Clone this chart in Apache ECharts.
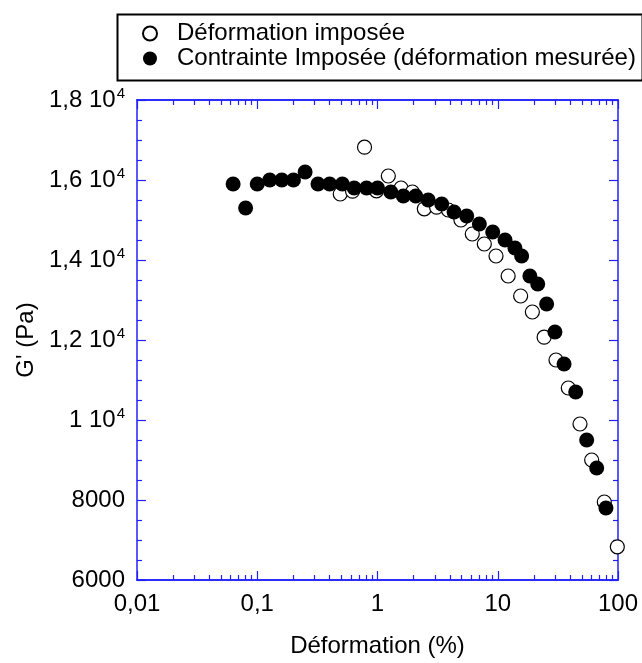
<!DOCTYPE html>
<html><head><meta charset="utf-8">
<script src="https://cdn.jsdelivr.net/npm/echarts@6/dist/echarts.min.js"></script>
<style>html,body{margin:0;padding:0;background:#fff}#c{width:642px;height:663px}</style>
</head><body><div id="c"></div>
<script>
// ---- data ----
const seriesNames = ['Déformation imposée', 'Contrainte Imposée (déformation mesurée)'];
// open circles: imposed strain
const openX = [0.49, 0.62, 0.78, 0.98, 1.23, 1.57, 1.95, 2.45, 3.1, 3.88, 4.94, 6.14, 7.73, 9.67, 12.2, 15.5, 19.4, 24.3, 30.5, 38.6, 48.3, 60.4, 76.9, 98.7];
const openY = [15650, 15720, 16820, 15730, 16100, 15800, 15700, 15280, 15320, 15250, 15000, 14650, 14400, 14100, 13600, 13100, 12700, 12070, 11500, 10800, 9900, 9000, 7950, 6830];
// filled circles: imposed stress (measured strain)
const filledX = [0.063, 0.08, 0.1, 0.127, 0.16, 0.2, 0.25, 0.32, 0.40, 0.51, 0.64, 0.81, 1.0, 1.29, 1.64, 2.08, 2.64, 3.42, 4.33, 5.52, 7.03, 9.08, 11.5, 13.9, 15.8, 18.5, 21.5, 25.5, 29.9, 35.6, 44.5, 54.9, 66.5, 79.4];
const filledY = [15900, 15300, 15900, 16000, 16000, 16000, 16200, 15900, 15900, 15900, 15800, 15800, 15800, 15700, 15600, 15600, 15500, 15400, 15200, 15100, 14900, 14700, 14500, 14300, 14100, 13600, 13400, 12900, 12200, 11400, 10700, 9500, 8800, 7800];
// axes
const xTickValues = [0.01, 0.1, 1, 10, 100];
const xTickLabels = ['0,01', '0,1', '1', '10', '100'];
const yTickValues = [6000, 8000, 10000, 12000, 14000, 16000, 18000];
const yTickLabels = ['6000', '8000', '1 10^4', '1,2 10^4', '1,4 10^4', '1,6 10^4', '1,8 10^4'];
const xName = 'Déformation (%)';
const yName = "G' (Pa)";

// ---- rendering ----
const FONT = "'Liberation Sans', Arial, sans-serif";
const FS = 24;
const BLUE = '#2020ff';
const xMinor = [];
for (let d = 0.01; d < 99; d *= 10) for (let k = 2; k <= 9; k++) xMinor.push(+(d * k).toPrecision(3));

function fmtX(v) {
  const i = xTickValues.findIndex(t => Math.abs(Math.log10(t) - Math.log10(v)) < 1e-6);
  return i < 0 ? '' : xTickLabels[i];
}
function fmtY(v) {
  const i = yTickValues.indexOf(v);
  if (i < 0) return '';
  const m = yTickLabels[i].match(/^(.*) 10\^(\d+)$/);
  return m ? '{a|' + m[1] + ' 10}{s|' + m[2] + '}' : '{a|' + yTickLabels[i] + '}';
}
const textBase = { color: '#000', fontFamily: FONT, fontSize: FS };

function xAx(pos, major, withLabel) {
  return {
    type: 'log', logBase: 10, min: 0.01, max: 100, position: pos, gridIndex: 0,
    axisLine: { show: true, onZero: false, lineStyle: { color: BLUE, width: 1.5 } },
    axisTick: { show: true, inside: true, length: major ? 9 : 5, customValues: major ? xTickValues : xMinor, lineStyle: { color: BLUE, width: 1.2 } },
    axisLabel: withLabel ? Object.assign({ show: true, customValues: xTickValues, formatter: fmtX, margin: 12 }, textBase) : { show: false },
    splitLine: { show: false },
    name: withLabel ? xName : '', nameLocation: 'middle', nameGap: 54,
    nameTextStyle: textBase
  };
}
function yAx(pos, withLabel) {
  return {
    type: 'value', min: 6000, max: 18000, interval: 2000, position: pos, gridIndex: 0,
    axisLine: { show: true, onZero: false, lineStyle: { color: BLUE, width: 1.5 } },
    axisTick: { show: true, inside: true, length: 9, lineStyle: { color: BLUE, width: 1.2 } },
    minorTick: { show: true, splitNumber: 4, length: 5, lineStyle: { color: BLUE, width: 1.2 } },
    axisLabel: withLabel ? {
      show: true, margin: 12, formatter: fmtY,
      rich: {
        a: { color: '#000', fontFamily: FONT, fontSize: FS, lineHeight: 27 },
        s: { color: '#000', fontFamily: FONT, fontSize: 15, verticalAlign: 'top', lineHeight: 27, padding: [0, 0, 12, 1] }
      }
    } : { show: false },
    splitLine: { show: false },
    name: withLabel ? yName : '', nameLocation: 'middle', nameGap: 92, nameRotate: 90,
    nameTextStyle: textBase
  };
}

const chart = echarts.init(document.getElementById('c'), null, { renderer: 'canvas' });
chart.setOption({
  animation: false,
  backgroundColor: '#fff',
  grid: { left: 137, right: 24, top: 100, bottom: 82, containLabel: false },
  xAxis: [xAx('bottom', true, true), xAx('bottom', false, false), xAx('top', true, false), xAx('top', false, false)],
  yAxis: [yAx('left', true), yAx('right', false)],
  legend: {
    orient: 'vertical', left: 142, top: 21, itemWidth: 28, itemHeight: 14, itemGap: 0,
    textStyle: Object.assign({ lineHeight: 25, padding: [0, 0, 0, 8] }, textBase),
    data: seriesNames, padding: 0, selectedMode: false
  },
  graphic: [{
    type: 'rect', left: 115, top: 12, z: 100,
    shape: { width: 525, height: 66 },
    style: { fill: 'none', stroke: '#000', lineWidth: 2 }
  }],
  series: [
    {
      name: seriesNames[0], type: 'scatter', xAxisIndex: 0, yAxisIndex: 0,
      symbol: 'circle', symbolSize: 14,
      itemStyle: { color: '#fff', borderColor: '#000', borderWidth: 1.2, opacity: 1 },
      data: openX.map((x, i) => [x, openY[i]])
    },
    {
      name: seriesNames[1], type: 'scatter', xAxisIndex: 0, yAxisIndex: 0,
      symbol: 'circle', symbolSize: 15,
      itemStyle: { color: '#000', opacity: 1 },
      data: filledX.map((x, i) => [x, filledY[i]])
    }
  ]
});
</script></body></html>
